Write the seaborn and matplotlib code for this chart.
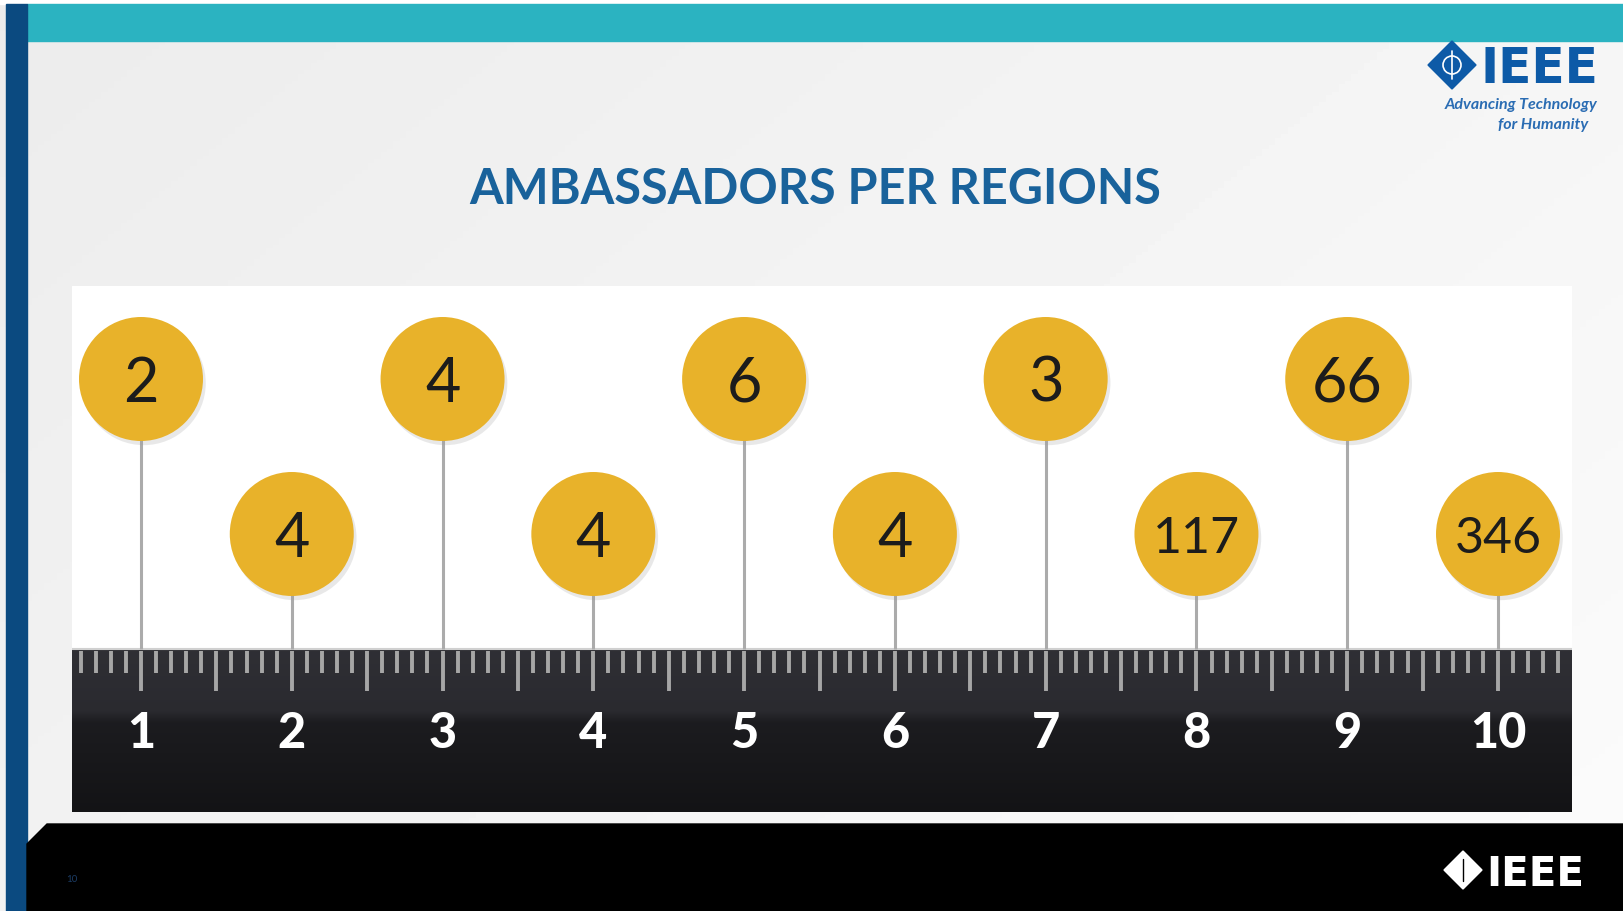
import numpy as np
import pandas as pd
import seaborn as sns
import matplotlib.pyplot as plt
from matplotlib.patches import Rectangle, Polygon, Circle
import matplotlib.patheffects as pe

# data
regions = [1, 2, 3, 4, 5, 6, 7, 8, 9, 10]
ambassadors = [2, 4, 4, 4, 6, 4, 3, 117, 66, 346]
rows = ["top", "bottom"] * 5
title = "AMBASSADORS PER REGIONS"

df = pd.DataFrame({"region": regions, "ambassadors": ambassadors, "row": rows})
row_y = {"top": 433, "bottom": 278}
df["y"] = df["row"].map(row_y)

sns.set_theme(style="white")
plt.rcParams["font.family"] = ["Lato", "DejaVu Sans"]

W, H = 1624, 912
fig = plt.figure(figsize=(W / 100, H / 100), dpi=100)

# slide background + frame
bg = fig.add_axes([0, 0, 1, 1])
g = np.linspace(0, 1, 256)
gx, gy = np.meshgrid(g, g)
shade = 0.925 + 0.06 * (0.6 * gx + 0.4 * gy)
bg.imshow(shade, cmap="gray", vmin=0, vmax=1, extent=(0, W, H, 0), aspect="auto")
bg.add_patch(Rectangle((0, 0), W, 5, color="white"))
bg.add_patch(Rectangle((27, 5), W - 27, 37, color="#2bb3c1"))
bg.add_patch(Rectangle((6, 5), 21, H, color="#0b4a80"))
bg.add_patch(Polygon([(27, H), (27, 845), (47, 825), (W, 825), (W, H)], color="black"))
bg.set_xlim(0, W)
bg.set_ylim(H, 0)
bg.axis("off")

# top-right logo
cx, cy, r = 1452, 66, 24
bg.add_patch(Polygon([(cx - r, cy), (cx, cy - r), (cx + r, cy), (cx, cy + r)], color="#0d5aa7"))
bg.add_patch(Circle((cx, cy), 9, fill=False, ec="white", lw=1.2))
bg.plot([cx, cx], [cy - 14, cy + 14], color="white", lw=1.2)
bg.text(1481, 83, "IEEE", fontsize=35, fontweight="bold", color="#0d5aa7",
        family="DejaVu Sans", ha="left", va="baseline")
bg.text(1597, 105, "Advancing Technology", fontsize=11.5, style="italic", fontweight="bold",
        color="#2a6cb3", ha="right", va="center")
bg.text(1588, 125, "for Humanity", fontsize=11.5, style="italic", fontweight="bold",
        color="#2a6cb3", ha="right", va="center")

# bottom logo + slide number
cx, cy, r = 1463, 871, 19
bg.add_patch(Polygon([(cx - r, cy), (cx, cy - r), (cx + r, cy), (cx, cy + r)], color="white"))
bg.plot([cx, cx], [cy - 11, cy + 11], color="black", lw=1.0)
bg.text(1486, 886, "IEEE", fontsize=29, fontweight="bold", color="white",
        family="DejaVu Sans", ha="left", va="baseline")
bg.text(72, 880, "10", fontsize=7, color="#1c3d66", ha="center", va="center")

# title
fig.text(815 / W, 1 - 204 / H, title, fontsize=35, fontweight="bold", color="#19629b",
         ha="center", va="baseline")

# main chart area: panel + ruler
ax = fig.add_axes([72 / W, (H - 813) / H, 1500 / W, (813 - 287) / H])
x0, x1 = 1 - 69 / 150.8, 10 + 74 / 150.8
top = 163

ax.add_patch(Rectangle((x0, top), x1 - x0, 526 - top, color="white", zorder=0))

ramp = np.interp(np.linspace(0, 1, 200), [0, 0.38, 0.45, 1], [0.185, 0.165, 0.11, 0.075])
rgb = np.stack([ramp, ramp, ramp * 1.12], axis=-1)[:, None, :]
ax.imshow(np.clip(rgb, 0, 1), extent=(x0, x1, 0, top), aspect="auto", origin="upper", zorder=1)
ax.hlines(top, x0, x1, color="#d0d0d0", lw=1.5, zorder=2)

k = np.arange(6, 105)
t = k / 10
long = k % 5 == 0
ax.vlines(t[~long], top - 24, top - 2, color="#a6a6a6", lw=2.8, zorder=2)
ax.vlines(t[long], top - 42, top - 2, color="#a6a6a6", lw=2.8, zorder=2)

for reg in regions:
    ax.text(reg, 65, str(reg), fontsize=35, fontweight="black", color="white",
            ha="center", va="baseline", zorder=3)

# pins
ax.vlines(df["region"], top, df["y"], color="#ababab", lw=2.2, zorder=2)

sns.scatterplot(data=df, x="region", y="y", s=7970, color="#e8b22a", edgecolor="none",
                ax=ax, zorder=4, legend=False)
ax.collections[-1].set_path_effects([
    pe.SimplePatchShadow(offset=(2, -3), shadow_rgbFace="#999999", alpha=0.22),
    pe.Normal()])

for _, row in df.iterrows():
    fs = 44 if row["ambassadors"] < 100 else 36
    cap = 0.72 * fs * 100 / 72
    ax.text(row["region"], row["y"] - cap / 2, str(row["ambassadors"]), fontsize=fs,
            color="#1c1c1c", ha="center", va="baseline", zorder=5)

ax.set_xlim(x0, x1)
ax.set_ylim(0, 526)
ax.axis("off")

fig.savefig("out.png", dpi=100)
